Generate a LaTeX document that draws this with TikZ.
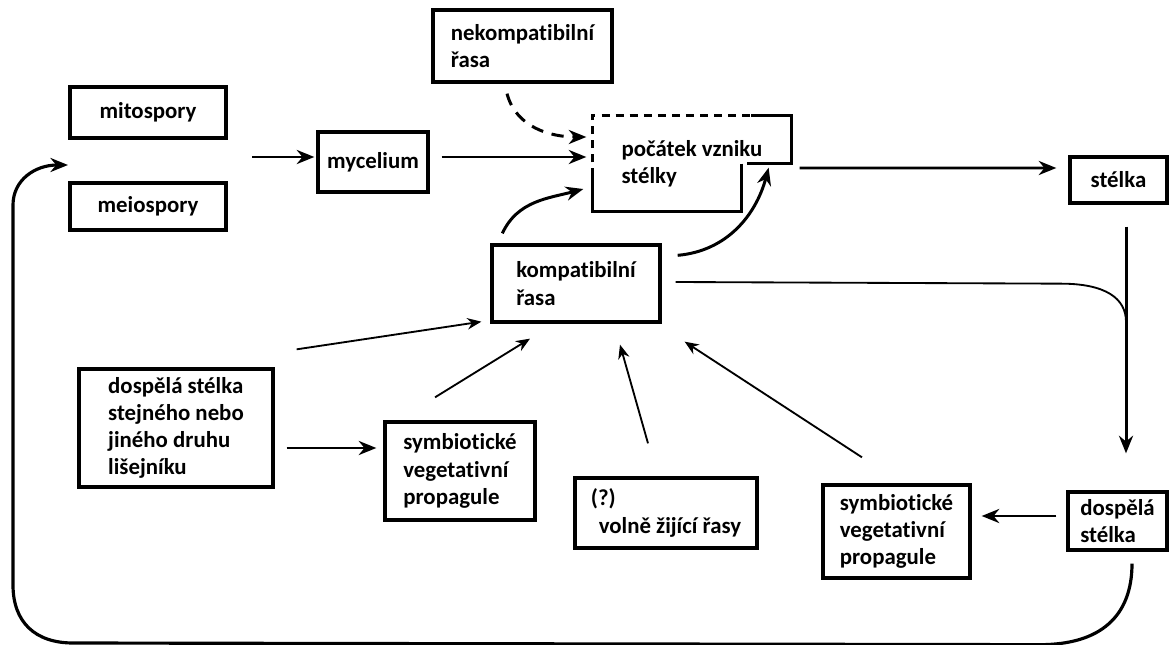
\documentclass[tikz,border=0pt]{standalone}
\usepackage{fontspec}
\setmainfont{Carlito}[Ligatures=NoCommon]
\usepackage{tikz}
\usetikzlibrary{arrows.meta,calc,positioning}
\newcommand{\boxfont}{\fontsize{13}{15.5}\selectfont\bfseries}
\tikzset{
  box/.style={draw, rectangle, line width=1.9pt, align=left, font=\boxfont, inner sep=0pt}, % ramecek
  arr/.style={line width=1.7pt, -{Stealth[length=10pt,width=8pt]}},                       % silna sipka
  thinarr/.style={line width=1.05pt, -{Stealth[length=8pt,width=6.5pt]}},                 % tenka sipka
  dasharr/.style={arr, dash pattern=on 7pt off 5pt},
  edgeline/.style={line width=1.9pt},
  dashedge/.style={line width=1.9pt, dash pattern=on 4.5pt off 3.5pt}
}
\begin{document}
\begin{tikzpicture}[x=0.02cm, y=-0.02cm]
  \useasboundingbox (0,0) rectangle (1170,645);

  % horni rada: spory, mycelium, pocatek steliky
  \node (mito) [box, minimum width=3.12cm, minimum height=1.02cm] at (148,112.5) {mitospory};
  \node (meio) [box, minimum width=3.12cm, minimum height=0.94cm] at (148,206.5) {meiospory};
  \coordinate (sporesin) at (68,165);
  \coordinate (sporesout) at (252,157);
  \node (myc) [box, minimum width=2.2cm, minimum height=1.2cm] at (373,162) {mycelium};
  \node (nek) [box, minimum width=3.58cm, minimum height=1.44cm] at (522.5,46) {nekompatibilní\\řasa};
  \node (poc) [box, draw=none, minimum width=3.92cm, minimum height=1.86cm] at (692,163.5) {počátek vzniku\\stélky};
  \node (stelka) [box, minimum width=1.94cm, minimum height=0.92cm] at (1118.5,180) {stélka};

  % prostredni rada
  \node (komp) [box, minimum width=3.36cm, minimum height=1.54cm] at (576,283.5) {kompatibilní\\řasa};

  % spodni rada
  \node (dosp) [box, minimum width=3.88cm, minimum height=2.36cm] at (176,428) {dospělá stélka\\stejného nebo\\jiného druhu\\lišejníku};
  \node (symbL) [box, minimum width=3.0cm, minimum height=1.96cm] at (460,471) {symbiotické\\vegetativní\\propagule};
  \node (free) [box, minimum width=3.64cm, minimum height=1.4cm] at (666,513) {(?)\\\hspace*{4.5pt}volně žijící řasy};
  \node (symbR) [box, minimum width=2.94cm, minimum height=1.86cm] at (896.5,531.5) {symbiotické\\vegetativní\\propagule};
  \node (dospR) [box, minimum width=1.98cm, minimum height=1.16cm] at (1117.5,521) {dospělá\\stélka};

  % obrys pocatku (cast carkovane)
  \draw[edgeline] ($(poc.north west)+(159,0)$) -- (poc.north east) -- ($(poc.south east)+(0,-48)$) -- ($(poc.south east)+(-37,-48)$);
  \draw[dashedge] ($(poc.south east)+(-37,-48)$) -- ($(poc.south east)+(-50,-48)$);
  \draw[edgeline] ($(poc.south east)+(-50,-48)$) -- ($(poc.south east)+(-50,0)$) -- (poc.south west) -- ($(poc.north west)+(0,61)$);
  \draw[dashedge] ($(poc.north west)+(0,61)$) -- (poc.north west) -- ($(poc.north west)+(159,0)$);

  % sipky
  \draw[arr] (sporesout) -- ($(myc.west)+(-2,-5)$);
  \draw[arr] ($(myc.east)+(12,-5)$) -- ($(poc.west)+(-6,-6.5)$);
  \draw[dasharr] ($(nek.south)+(-15.5,10)$) to[out=-75, in=180] ($(poc.west)+(-6,-26.5)$);
  \draw[arr] ($(komp.north west)+(12,-10)$) to[out=65, in=195] ($(poc.west)+(-9,25.5)$);
  \draw[arr] ($(komp.north east)+(16,12)$) to[out=5, in=-105] ($(poc.south east)+(-23,-44)$);
  \draw[arr] ($(poc.east)+(8,4.5)$) -- ($(stelka.west)+(-12,-12)$);
  \coordinate (gtop) at ($(stelka.south)+(7.5,22)$);
  \draw[arr] (gtop) -- ($(dospR.north)+(8.5,-37)$);
  \draw[line width=1.05pt] ($(komp.east)+(14,-1.5)$) -- ($(gtop)+(-65,57)$) .. controls ($(gtop)+(-20,57)$) and ($(gtop)+(0,72)$) .. ($(gtop)+(0,95)$);
  \draw[arr] ($(dospR.west)+(-10,-5)$) -- ($(symbR.east)+(10,-15.5)$);
  \draw[arr] ($(dosp.east)+(12,20)$) -- ($(symbL.west)+(-7,-23)$);
  \draw[thinarr] ($(dosp.north east)+(22,-18)$) -- ($(komp.south west)+(-9,-2)$);
  \draw[thinarr] ($(symbL.north)+(-25,-23)$) -- ($(komp.south)+(-46,15)$);
  \draw[thinarr] ($(free.north)+(-18,-33)$) -- ($(komp.south)+(44,21)$);
  \draw[thinarr] ($(symbR.north)+(-34.5,-26)$) -- ($(komp.south east)+(23,18)$);

  % velka smycka zpet ke sporam
  \draw[arr, line width=1.8pt] ($(dospR.south)+(14.5,12)$) .. controls ($(dospR.south)+(14.5,65)$) and ($(dospR.south)+(-17.5,93)$) .. ($(dospR.south)+(-77.5,93)$)
    -- (73,643) .. controls (35,643) and (13,622) .. (13,585) -- (13,205) .. controls (13,180) and (35,165) .. (sporesin);
\end{tikzpicture}
\end{document}
